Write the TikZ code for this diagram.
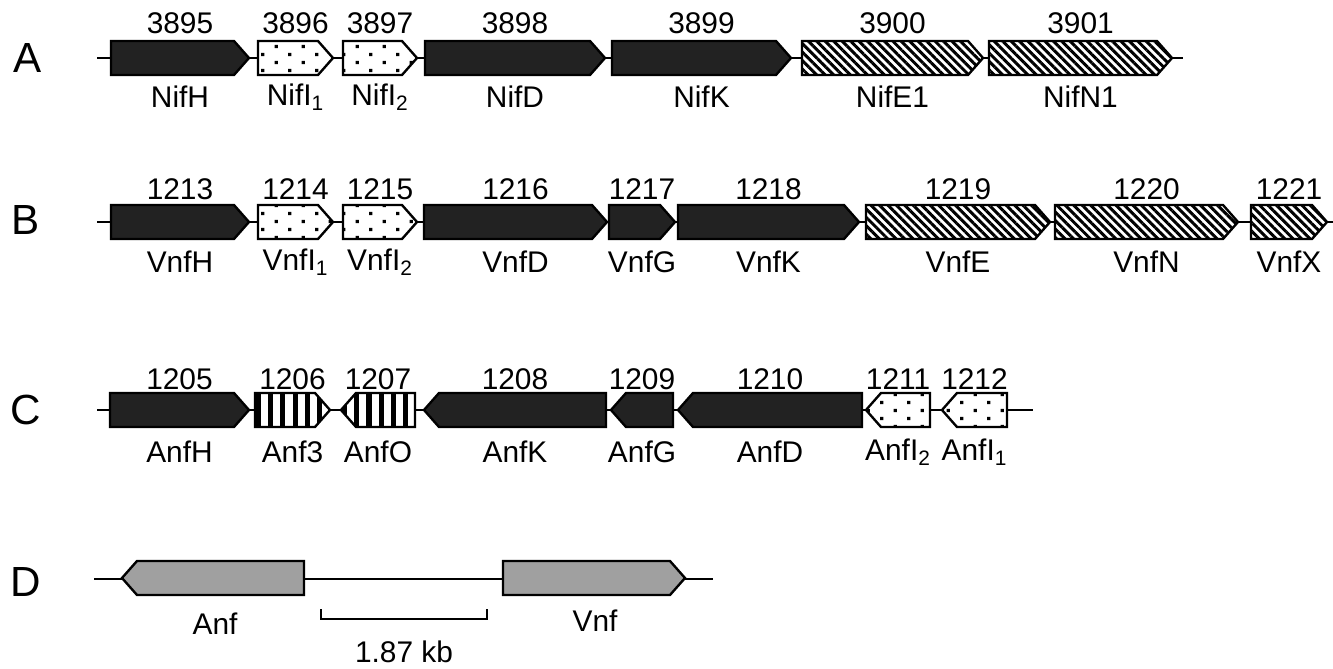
\documentclass[tikz,border=0pt]{standalone}
\usepackage{fontspec}
\setmainfont{Liberation Sans}
\usetikzlibrary{patterns.meta,calc}
\definecolor{genedark}{RGB}{34,34,34}
\definecolor{genegray}{RGB}{160,160,160}
\tikzdeclarepattern{
  name=sdots,
  type=uncolored,
  bounding box={(0,0) and (15.3pt,9pt)},
  tile size={(15.3pt,9pt)},
  code={
    \fill (3.8pt,2.25pt) rectangle ++(1.8pt,1.8pt);
    \fill (11.45pt,6.75pt) rectangle ++(1.8pt,1.8pt);
  }
}
\tikzset{
  genebase/.style={draw=black, line width=1.35pt, line join=miter},
  solidgene/.style={genebase, fill=genedark},
  dotgene/.style={genebase, preaction={fill=white}, pattern=sdots, pattern color=black},
  diaggene/.style={genebase, preaction={fill=white}, pattern={Lines[angle=-45,distance=3.4pt,line width=1.7pt]}, pattern color=black},
  vertgene/.style={genebase, preaction={fill=white}, pattern={Lines[angle=90,distance=7pt,line width=2.9pt]}, pattern color=black},
  graygene/.style={genebase, fill=genegray},
  backbone/.style={draw=black, line width=0.7pt},
  numlab/.style={font=\fontsize{17}{19}\selectfont, inner sep=0pt},
  genelab/.style={font=\fontsize{17}{19}\selectfont, inner sep=0pt},
  rowlab/.style={font=\fontsize{24}{26}\selectfont, inner sep=0pt},
}
% forward gene: x1, x2, y, style
\newcommand\fwdgene[4]{\draw[#4] (#1,#3-17) -- (#2-15,#3-17) -- (#2,#3) -- (#2-15,#3+17) -- (#1,#3+17) -- cycle;}
% reverse gene: x1 (tip), x2, y, style
\newcommand\revgene[4]{\draw[#4] (#1,#3) -- (#1+15,#3-17) -- (#2,#3-17) -- (#2,#3+17) -- (#1+15,#3+17) -- cycle;}
% labels: x1, x2, y, number offset, name offset, number, name, nodename
\newcommand\genelabels[8]{%
  \node[numlab] (n#8) at ({(#1+#2)/2},#3+#4) {#6};
  \node[genelab] (l#8) at ({(#1+#2)/2},#3+#5) {#7};}
\begin{document}
\begin{tikzpicture}[x=0.02cm,y=-0.02cm]
\useasboundingbox (0,0) rectangle (1333,669);
% ---------- Row A ----------
\node[rowlab] (rowA) at (28,58) {A};
\coordinate (aL) at (97,58); \coordinate (aR) at (1183,58);
\draw[backbone] (aL) -- (aR);
\fwdgene{111}{249}{58}{solidgene}
\fwdgene{258}{333}{58}{dotgene}
\fwdgene{343}{417}{58}{dotgene}
\fwdgene{425}{605}{58}{solidgene}
\fwdgene{612}{791}{58}{solidgene}
\fwdgene{802}{983}{58}{diaggene}
\fwdgene{989}{1172}{58}{diaggene}
\genelabels{111}{249}{58}{-35}{39}{3895}{NifH}{a1}
\genelabels{258}{333}{58}{-35}{39}{3896}{NifI\textsubscript{1}}{a2}
\genelabels{343}{417}{58}{-35}{39}{3897}{NifI\textsubscript{2}}{a3}
\genelabels{425}{605}{58}{-35}{39}{3898}{NifD}{a4}
\genelabels{612}{791}{58}{-35}{39}{3899}{NifK}{a5}
\genelabels{802}{983}{58}{-35}{39}{3900}{NifE1}{a6}
\genelabels{989}{1172}{58}{-35}{39}{3901}{NifN1}{a7}
% ---------- Row B ----------
\node[rowlab] (rowB) at (26,220) {B};
\coordinate (bL) at (97,222); \coordinate (bR) at (1333,222);
\draw[backbone] (bL) -- (bR);
\fwdgene{111}{249}{222}{solidgene}
\fwdgene{258}{333}{222}{dotgene}
\fwdgene{343}{417}{222}{dotgene}
\fwdgene{424}{607}{222}{solidgene}
\fwdgene{609}{675}{222}{solidgene}
\fwdgene{678}{859}{222}{solidgene}
\fwdgene{866}{1050}{222}{diaggene}
\fwdgene{1055}{1238}{222}{diaggene}
\fwdgene{1251}{1327}{222}{diaggene}
\genelabels{111}{249}{222}{-33}{40}{1213}{VnfH}{b1}
\genelabels{258}{333}{222}{-33}{40}{1214}{VnfI\textsubscript{1}}{b2}
\genelabels{343}{417}{222}{-33}{40}{1215}{VnfI\textsubscript{2}}{b3}
\genelabels{424}{607}{222}{-33}{40}{1216}{VnfD}{b4}
\genelabels{609}{675}{222}{-33}{40}{1217}{VnfG}{b5}
\genelabels{678}{859}{222}{-33}{40}{1218}{VnfK}{b6}
\genelabels{866}{1050}{222}{-33}{40}{1219}{VnfE}{b7}
\genelabels{1055}{1238}{222}{-33}{40}{1220}{VnfN}{b8}
\genelabels{1251}{1327}{222}{-33}{40}{1221}{VnfX}{b9}
% ---------- Row C ----------
\node[rowlab] (rowC) at (26,410) {C};
\coordinate (cL) at (97,410); \coordinate (cR) at (1033,410);
\draw[backbone] (cL) -- (cR);
\fwdgene{110}{249}{410}{solidgene}
\fwdgene{255}{330}{410}{vertgene}
\revgene{341}{415}{410}{vertgene}
\revgene{424}{606}{410}{solidgene}
\revgene{611}{673}{410}{solidgene}
\revgene{678}{862}{410}{solidgene}
\revgene{866}{930}{410}{dotgene}
\revgene{942}{1007}{410}{dotgene}
\genelabels{110}{249}{410}{-31}{42}{1205}{AnfH}{c1}
\genelabels{255}{330}{410}{-31}{42}{1206}{Anf3}{c2}
\genelabels{341}{415}{410}{-31}{42}{1207}{AnfO}{c3}
\genelabels{424}{606}{410}{-31}{42}{1208}{AnfK}{c4}
\genelabels{611}{673}{410}{-31}{42}{1209}{AnfG}{c5}
\genelabels{678}{862}{410}{-31}{42}{1210}{AnfD}{c6}
\genelabels{866}{930}{410}{-31}{42}{1211}{AnfI\textsubscript{2}}{c7}
\genelabels{942}{1007}{410}{-31}{42}{1212}{AnfI\textsubscript{1}}{c8}
% ---------- Row D ----------
\node[rowlab] (rowD) at (26,582) {D};
\coordinate (dL) at (94,579); \coordinate (dR) at (713,579);
\draw[backbone] (dL) -- (dR);
\revgene{122}{304}{578}{graygene}
\fwdgene{503}{685}{578}{graygene}
\node[genelab] (lAnf) at (215,624) {Anf};
\node[genelab] (lVnf) at (595,621) {Vnf};
\coordinate (brL) at (321,609); \coordinate (brR) at (487,609);
\draw[line width=1.2pt] (brL) -- ($(brL)+(0,10)$) -- ($(brR)+(0,10)$) -- (brR);
\node[genelab] (lkb) at (404,652) {1.87 kb};
\end{tikzpicture}
\end{document}
